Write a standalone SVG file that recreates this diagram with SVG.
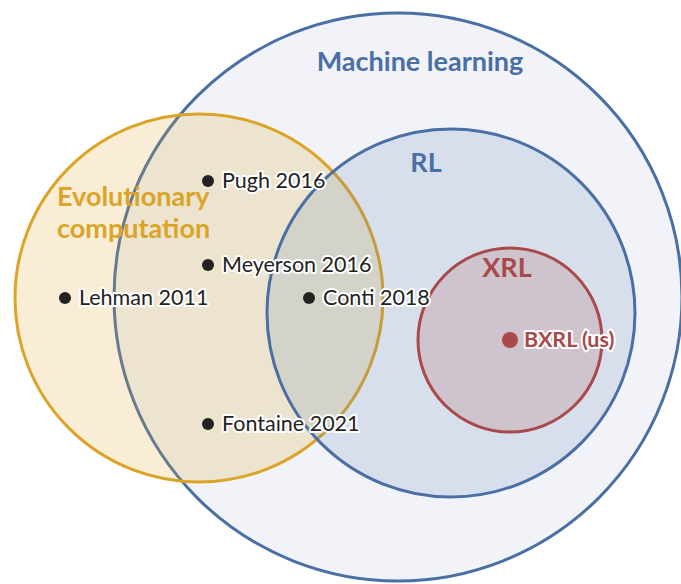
<svg xmlns="http://www.w3.org/2000/svg" width="681" height="584" viewBox="0 0 681 584">
<style>
.title{font-family:Lato,"Open Sans","Liberation Sans",sans-serif;font-weight:bold;font-size:27px}
.lbl{font-family:Lato,"Open Sans","Liberation Sans",sans-serif;font-size:21.5px;fill:#222;paint-order:stroke;stroke:#fff;stroke-width:4;stroke-linejoin:round}
.dot{fill:#222}
</style>
<rect width="681" height="584" fill="#fff"/>
<g id="ml">
<circle cx="398" cy="297" r="284" fill="#f1f3f8" stroke="#4a6fa5" stroke-width="3"/>
<text class="title" x="420" y="71" text-anchor="middle" fill="#4a6fa5">Machine learning</text>
</g>
<g id="evo">
<circle cx="199" cy="298" r="184" fill="#e0a82e" fill-opacity="0.2" stroke="#dba427" stroke-width="3"/>
<text class="title" fill="#dba427"><tspan x="57" y="206">Evolutionary</tspan><tspan x="57" y="238">computation</tspan></text>
</g>
<g id="rl">
<circle cx="451" cy="313" r="184" fill="#4a6fa5" fill-opacity="0.15" stroke="#4a6fa5" stroke-width="3"/>
<text class="title" x="426" y="172" text-anchor="middle" fill="#4a6fa5">RL</text>
</g>
<g id="xrl">
<circle cx="510" cy="340" r="92" fill="#a84a4a" fill-opacity="0.18" stroke="#a84a4a" stroke-width="3"/>
<text class="title" x="507" y="277" text-anchor="middle" fill="#a84a4a">XRL</text>
</g>
<g id="pugh"><circle class="dot" cx="208" cy="181" r="6"/><text class="lbl" x="222" y="188">Pugh 2016</text></g>
<g id="meyerson"><circle class="dot" cx="208" cy="265" r="6"/><text class="lbl" x="222" y="272">Meyerson 2016</text></g>
<g id="lehman"><circle class="dot" cx="65" cy="298" r="6"/><text class="lbl" x="79" y="305">Lehman 2011</text></g>
<g id="conti"><circle class="dot" cx="309" cy="298" r="6"/><text class="lbl" x="323" y="305">Conti 2018</text></g>
<g id="fontaine"><circle class="dot" cx="208" cy="424" r="6"/><text class="lbl" x="222" y="431">Fontaine 2021</text></g>
<g id="bxrl"><circle cx="510" cy="340" r="8" fill="#a84a4a"/><text class="lbl" x="524" y="347" style="fill:#a84a4a;font-weight:bold">BXRL (us)</text></g>
</svg>
